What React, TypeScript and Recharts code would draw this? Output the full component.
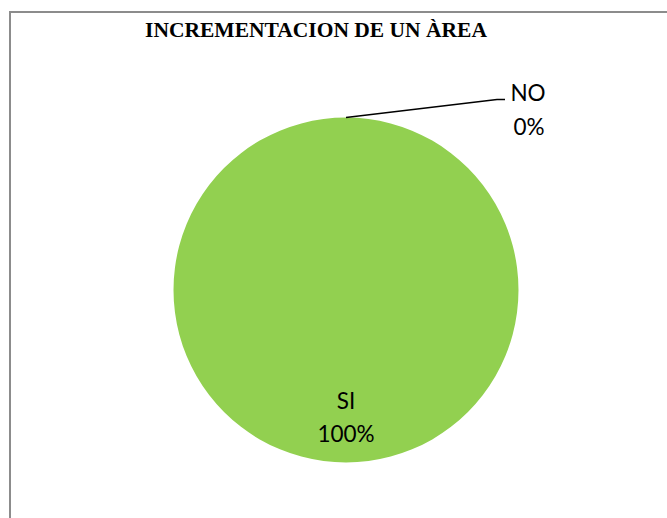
import React from "react";
import { PieChart, Pie, Cell } from "recharts";

const categories = ["SI", "NO"];
const values = [100, 0];
const percentLabels = ["100%", "0%"];
const colors = ["#92D050", "#92D050"];

const data = categories.map((name, i) => ({ name, value: values[i], pct: percentLabels[i] }));

const RAD = Math.PI / 180;
const FONT = "Lato, 'Open Sans', sans-serif";
const FS = 22.5;

const renderLabel = (props: any) => {
  const { cx, cy, midAngle, outerRadius, index } = props;
  const d = data[index];
  if (index === 0) {
    const r = outerRadius * 0.64;
    const x = cx + r * Math.cos(-midAngle * RAD);
    const y = cy - r * Math.sin(midAngle * RAD);
    return (
      <g key={`l-${index}`}>
        <text x={x} y={y + 9} textAnchor="middle" fontFamily={FONT} fontSize={FS} fill="#000">
          {d.name}
        </text>
        <text x={x} y={y + 42} textAnchor="middle" fontFamily={FONT} fontSize={FS} fill="#000">
          {d.pct}
        </text>
      </g>
    );
  }
  const sx = cx + outerRadius * Math.cos(midAngle * RAD);
  const sy = cy - outerRadius * Math.sin(midAngle * RAD);
  const ex = sx + 151;
  const ey = sy - 18;
  const tx = ex + 8;
  return (
    <g key={`l-${index}`}>
      <polyline points={`${sx},${sy} ${ex},${ey} ${tx},${ey}`} fill="none" stroke="#000" strokeWidth={1.5} />
      <text x={tx + 23} y={ey + 1} textAnchor="middle" fontFamily={FONT} fontSize={FS} fill="#000">
        {d.name}
      </text>
      <text x={tx + 24} y={ey + 35} textAnchor="middle" fontFamily={FONT} fontSize={FS} fill="#000">
        {d.pct}
      </text>
    </g>
  );
};

export default function App() {
  return (
    <div style={{ position: "absolute", left: 0, top: 0, width: 667, height: 518, background: "#fff", overflow: "hidden" }}>
      <div
        style={{
          position: "absolute",
          left: 9,
          top: 11,
          width: 700,
          height: 600,
          borderLeft: "2px solid #8c8c8c",
          borderTop: "2px solid #8c8c8c",
        }}
      />
      <PieChart
        width={667}
        height={518}
        margin={{ top: 0, right: 0, bottom: 0, left: 0 }}
        style={{ position: "absolute", left: 0, top: 0 }}
      >
        <text
          x={316}
          y={37}
          textAnchor="middle"
          fontFamily="'Liberation Serif', 'Times New Roman', serif"
          fontWeight="bold"
          fontSize={21.5}
          fill="#000"
        >
          INCREMENTACION DE UN ÀREA
        </text>
        <Pie
          data={data}
          dataKey="value"
          nameKey="name"
          cx={346}
          cy={290}
          outerRadius={172.5}
          startAngle={90}
          endAngle={-270}
          stroke="none"
          label={renderLabel}
          labelLine={false}
          isAnimationActive={false}
        >
          {data.map((d, i) => (
            <Cell key={d.name} fill={colors[i]} />
          ))}
        </Pie>
      </PieChart>
    </div>
  );
}
